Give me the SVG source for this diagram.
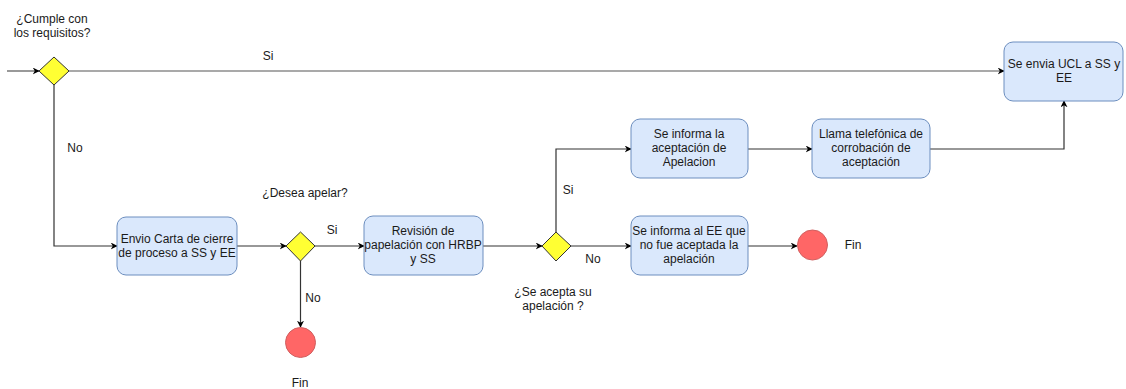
<svg xmlns="http://www.w3.org/2000/svg" width="1126" height="389" viewBox="0 0 1126 389">
  <style>
    .box { fill: #dae8fc; stroke: #6c8ebf; stroke-width: 1; }
    .gate { fill: #ffff33; stroke: #333333; stroke-width: 1; }
    .end { fill: #ff6666; stroke: #d06060; stroke-width: 1; }
    .edge { fill: none; stroke: #333333; stroke-width: 1.2; }
    .main { stroke: #555555; }
    text { font-family: "Liberation Sans", Arial, sans-serif; font-size: 12px; fill: #1a1a1a; text-anchor: middle; }
  </style>
  <defs>
    <marker id="arrow" viewBox="0 0 10 10" refX="9" refY="5" markerWidth="7" markerHeight="7" markerUnits="userSpaceOnUse" orient="auto">
      <path d="M0,0 L10,5 L0,10 L3,5 Z" fill="#000000"/>
    </marker>
  </defs>
  <rect width="1126" height="389" fill="#ffffff"/>

  <!-- connectors -->
  <g id="connectors">
    <path class="edge main" d="M7,71 L39,71" marker-end="url(#arrow)"/>
    <path class="edge main" d="M69,71 L1004,71" marker-end="url(#arrow)"/>
    <path class="edge" d="M54,85 L54,246 L117,246" marker-end="url(#arrow)"/>
    <path class="edge" d="M237,246 L286,246" marker-end="url(#arrow)"/>
    <path class="edge" d="M315,246 L364,246" marker-end="url(#arrow)"/>
    <path class="edge" d="M300.5,261 L300.5,327" marker-end="url(#arrow)"/>
    <path class="edge" d="M483,246 L542,246" marker-end="url(#arrow)"/>
    <path class="edge" d="M556,232 L556,149 L631,149" marker-end="url(#arrow)"/>
    <path class="edge" d="M571,246 L631,246" marker-end="url(#arrow)"/>
    <path class="edge" d="M748,149 L812,149" marker-end="url(#arrow)"/>
    <path class="edge" d="M748,246 L797,246" marker-end="url(#arrow)"/>
    <path class="edge" d="M930,149 L1064,149 L1064,101" marker-end="url(#arrow)"/>
    <text x="268" y="60">Si</text>
    <text x="75" y="152">No</text>
    <text x="332" y="234">Si</text>
    <text x="313" y="302">No</text>
    <text x="568" y="194">Si</text>
    <text x="593" y="263">No</text>
  </g>

  <!-- gateway: requirements -->
  <g id="gate-requisitos">
    <path class="gate" d="M54,57 L69,71 L54,85 L39,71 Z"/>
    <text x="52" y="23">¿Cumple con</text>
    <text x="52" y="37">los requisitos?</text>
  </g>

  <g id="task-ucl">
    <rect class="box" x="1004" y="42" width="119" height="59" rx="9"/>
    <text x="1064" y="68">Se envia UCL a SS y</text>
    <text x="1064" y="82">EE</text>
  </g>

  <g id="task-carta">
    <rect class="box" x="117" y="217" width="120" height="58" rx="9"/>
    <text x="177" y="243">Envio Carta de cierre</text>
    <text x="177" y="257">de proceso a SS y EE</text>
  </g>

  <g id="gate-apelar">
    <path class="gate" d="M300.5,232 L315,246 L300.5,261 L286,246 Z"/>
    <text x="305" y="197">¿Desea apelar?</text>
  </g>

  <g id="end-1">
    <circle class="end" cx="300.5" cy="342.5" r="15"/>
    <text x="300" y="387">Fin</text>
  </g>

  <g id="task-revision">
    <rect class="box" x="364" y="216" width="119" height="59" rx="9"/>
    <text x="423" y="235">Revisión de</text>
    <text x="423" y="249">papelación con HRBP</text>
    <text x="423" y="263">y SS</text>
  </g>

  <g id="gate-acepta">
    <path class="gate" d="M556,232 L571,246 L556,261 L542,246 Z"/>
    <text x="553" y="296">¿Se acepta su</text>
    <text x="553" y="310">apelación ?</text>
  </g>

  <g id="task-informa-aceptacion">
    <rect class="box" x="631" y="119" width="117" height="59" rx="9"/>
    <text x="689" y="138">Se informa la</text>
    <text x="689" y="152">aceptación de</text>
    <text x="689" y="166">Apelacion</text>
  </g>

  <g id="task-llamada">
    <rect class="box" x="812" y="119" width="118" height="59" rx="9"/>
    <text x="871" y="138">Llama telefónica de</text>
    <text x="871" y="152">corrobación de</text>
    <text x="871" y="166">aceptación</text>
  </g>

  <g id="task-informa-rechazo">
    <rect class="box" x="631" y="216" width="117" height="59" rx="9"/>
    <text x="689" y="235">Se informa al EE que</text>
    <text x="689" y="249">no fue aceptada la</text>
    <text x="689" y="263">apelación</text>
  </g>

  <g id="end-2">
    <circle class="end" cx="812.5" cy="245" r="15"/>
    <text x="853" y="249">Fin</text>
  </g>
</svg>
